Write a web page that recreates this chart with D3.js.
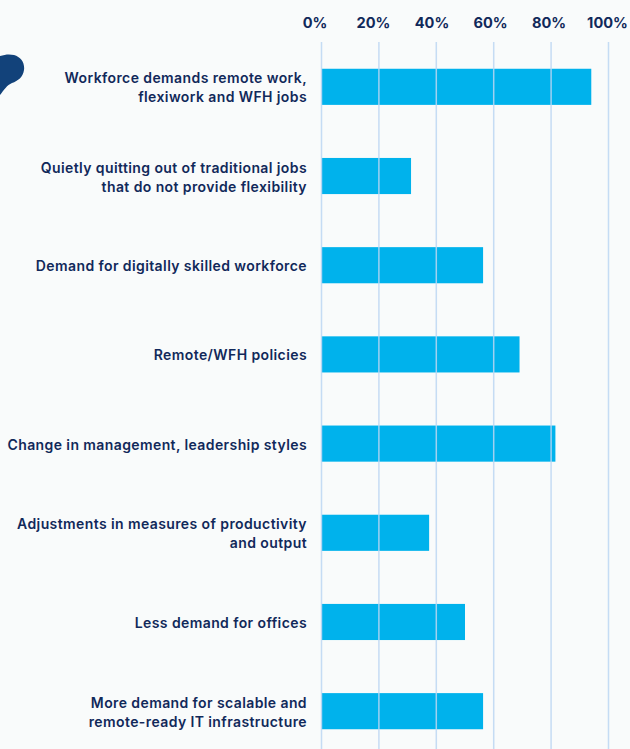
<!DOCTYPE html>
<html>
<head>
    <meta charset="utf-8">
    <title>Workforce changes</title>
    <script src="https://cdnjs.cloudflare.com/ajax/libs/d3/7.8.5/d3.min.js"></script>
    <style>
        html, body { margin: 0; padding: 0; background: #f9fbfb; overflow: hidden; }
        text { font-family: "Inter", sans-serif; font-weight: 600; fill: #11295a; }
    </style>
</head>
<body>
<div id="chart"></div>
<script type="text/javascript">

	// Values
	var categories = [
		["Workforce demands remote work,", "flexiwork and WFH jobs"],
		["Quietly quitting out of traditional jobs", "that do not provide flexibility"],
		["Demand for digitally skilled workforce"],
		["Remote/WFH policies"],
		["Change in management, leadership styles"],
		["Adjustments in measures of productivity", "and output"],
		["Less demand for offices"],
		["More demand for scalable and", "remote-ready IT infrastructure"]
	];
	var values = [94, 31.2, 56.3, 69, 81.5, 37.5, 50, 56.3];
	var ticks = [0, 20, 40, 60, 80, 100];

	var width = 630, height = 749;

	var svg = d3.select("#chart").append("svg")
		.attr("width", width)
		.attr("height", height)
		.style("display", "block");

	var x = d3.scaleLinear().domain([0, 100]).range([321.5, 608.5]);
	// the tick labels sit a little left of their gridlines in the original
	var xLabel = d3.scaleLinear().domain([0, 100]).range([314.5, 607]);
	var y = d3.scaleBand()
		.domain(d3.range(categories.length))
		.range([42, 756])
		.paddingInner(0.595)
		.paddingOuter(0.3);

	// Speech bubble shape cut off at the left edge
	svg.append("path")
		.attr("d", "M-2,57 C4,54 10,54 14,55 C21,57 25,63 24,70 C23,77 18,81 12,83 C7,85 4,90 0,95 L-2,97 Z")
		.attr("fill", "#12427a");

	// Bars
	svg.append("g").selectAll("rect")
		.data(values)
		.enter()
		.append("rect")
		.attr("x", x(0))
		.attr("y", function(d, i){ return y(i); })
		.attr("width", function(d){ return x(d) - x(0); })
		.attr("height", y.bandwidth())
		.attr("fill", "#00b2ec");

	// Top axis labels
	var axis = d3.axisTop(xLabel)
		.tickValues(ticks)
		.tickFormat(function(d){ return d + "%"; })
		.tickSize(0)
		.tickPadding(0);

	var axisG = svg.append("g")
		.attr("transform", "translate(0,28)")
		.call(axis);
	axisG.select(".domain").remove();
	axisG.selectAll("text")
		.attr("font-family", null)
		.style("font-size", "14.6px")
		.style("font-weight", "700")
		.attr("dy", "0");

	// Gridlines run over the bars
	svg.append("g").selectAll("line")
		.data(ticks)
		.enter()
		.append("line")
		.attr("x1", function(d){ return x(d); })
		.attr("x2", function(d){ return x(d); })
		.attr("y1", 42)
		.attr("y2", 749)
		.attr("stroke", "#bcd6f2")
		.attr("stroke-opacity", 0.85)
		.attr("stroke-width", 1.5);

	// Category labels, right aligned
	var labels = svg.append("g").selectAll("text")
		.data(categories)
		.enter()
		.append("text")
		.attr("text-anchor", "end")
		.style("font-size", "14px")
		.style("letter-spacing", "0.4px")
		.attr("transform", function(d, i){
			return "translate(307," + (y(i) + y.bandwidth() / 2 + 1) + ")";
		});

	labels.selectAll("tspan")
		.data(function(d){ return d; })
		.enter()
		.append("tspan")
		.attr("x", 0)
		.attr("y", function(d, i, n){ return (i - (n.length - 1) / 2) * 19 + 5; })
		.text(function(d){ return d; });

</script>
</body>
</html>
